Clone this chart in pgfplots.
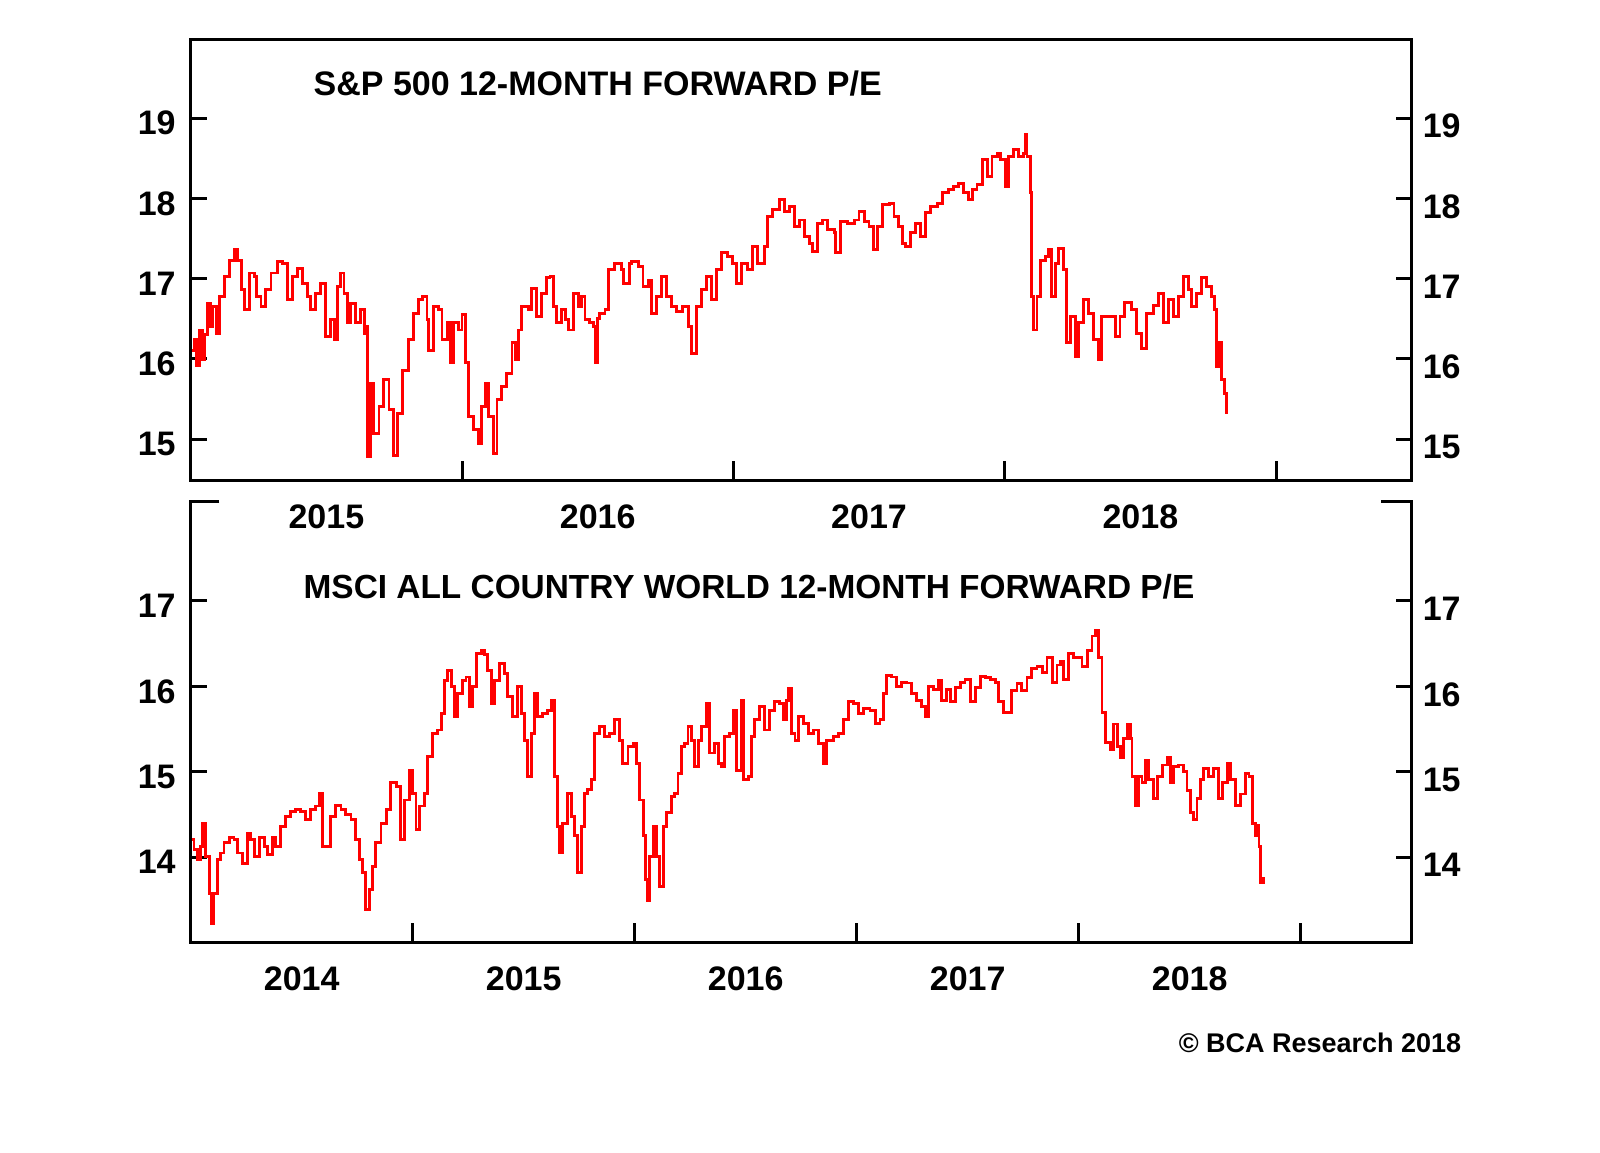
\documentclass[border=0pt]{standalone}
\usepackage{fontspec}
\setmainfont{Liberation Sans}
\usepackage{pgfplots}
\pgfplotsset{compat=1.18}

\definecolor{pered}{RGB}{255,0,0}

\pgfplotsset{
  panel/.style={
    scale only axis,
    width=610.5pt, height=220.85pt,
    anchor=south west,
    axis line style={line width=1.5pt},
    tick style={line width=1.5pt, black},
    major tick length=8pt,
    xtick style={/pgfplots/major tick length=10pt},
    xtick pos=left, ytick pos=both,
    x tick label as interval,
    minor tick num=0,
    tick label style={font=\fontsize{17pt}{20pt}\selectfont\bfseries},
    xticklabel style={yshift=-8.5pt},
    yticklabel style={xshift=-4pt, yshift=-2.5pt},
    /pgf/number format/assume math mode=true,
    /pgf/number format/1000 sep={},
    line join=miter,
  },
  rightlabels/.style={
    panel,
    xtick=\empty,
    yticklabel pos=right,
    axis line style={draw=none},
    tick style={draw=none},
    yticklabel style={xshift=6pt, yshift=-1.5pt},
  },
  series/.style={pered, line width=1.45pt, line join=miter, no marks, const plot},
}

\begin{document}
\begin{tikzpicture}
\path[use as bounding box] (0,0) rectangle (800pt,576pt);

% ---- top panel: S&P 500 ----
\begin{axis}[panel, at={(95.35pt,335.5pt)},
  xmin=2015, xmax=2019.5, ymin=14.48, ymax=19.98,
  xtick={2015,2016,2017,2018,2019}, xticklabels={2015,2016,2017,2018},
  ytick={15,16,17,18,19}]
\addplot[series] coordinates {
(2015.005,16.10) (2015.014,16.24) (2015.022,15.92) (2015.033,16.36) (2015.042,15.99)
(2015.051,16.30) (2015.063,16.69) (2015.072,16.40) (2015.082,16.65) (2015.094,16.32)
(2015.106,16.78) (2015.124,17.03) (2015.143,17.23) (2015.161,17.36) (2015.174,17.23)
(2015.186,16.86) (2015.198,16.61) (2015.216,17.07) (2015.235,17.03) (2015.241,16.78)
(2015.259,16.65) (2015.277,16.86) (2015.296,17.07) (2015.320,17.21) (2015.339,17.19)
(2015.357,16.74) (2015.375,17.03) (2015.394,17.13) (2015.412,16.94) (2015.430,16.78)
(2015.443,16.61) (2015.461,16.82) (2015.480,16.94) (2015.498,16.28) (2015.516,16.49)
(2015.529,16.24) (2015.541,16.90) (2015.553,17.07) (2015.565,16.82) (2015.577,16.45)
(2015.590,16.69) (2015.608,16.45) (2015.627,16.61) (2015.639,16.32) (2015.645,16.40)
(2015.651,14.78) (2015.663,15.70) (2015.675,15.07) (2015.694,15.41) (2015.712,15.74)
(2015.731,15.37) (2015.749,14.80) (2015.761,15.32) (2015.780,15.86) (2015.804,16.24)
(2015.822,16.57) (2015.841,16.74) (2015.853,16.78) (2015.871,16.49) (2015.877,16.11)
(2015.896,16.65) (2015.914,16.61) (2015.926,16.24) (2015.945,16.45) (2015.957,15.95)
(2015.969,16.45) (2015.988,16.36) (2016.000,16.55) (2016.012,15.95) (2016.024,15.28)
(2016.043,15.12) (2016.061,14.95) (2016.073,15.41) (2016.086,15.70) (2016.098,15.28)
(2016.116,14.82) (2016.129,15.49) (2016.147,15.66) (2016.165,15.82) (2016.184,16.20)
(2016.196,15.99) (2016.208,16.36) (2016.220,16.65) (2016.245,16.61) (2016.257,16.88)
(2016.275,16.53) (2016.294,16.82) (2016.312,17.01) (2016.324,17.03) (2016.337,16.65)
(2016.349,16.45) (2016.367,16.61) (2016.380,16.49) (2016.392,16.36) (2016.410,16.82)
(2016.429,16.65) (2016.441,16.78) (2016.453,16.49) (2016.471,16.45) (2016.484,16.40)
(2016.490,15.95) (2016.500,16.50) (2016.508,16.57) (2016.527,16.61) (2016.539,17.11)
(2016.563,17.19) (2016.588,17.11) (2016.594,16.94) (2016.618,17.19) (2016.625,17.21)
(2016.649,17.15) (2016.667,16.90) (2016.686,16.98) (2016.698,16.57) (2016.716,16.78)
(2016.735,17.03) (2016.753,16.78) (2016.772,16.65) (2016.790,16.59) (2016.814,16.65)
(2016.833,16.40) (2016.845,16.07) (2016.863,16.65) (2016.882,16.86) (2016.900,17.03)
(2016.918,16.74) (2016.937,17.11) (2016.955,17.32) (2016.980,17.28) (2016.998,17.19)
(2017.010,16.94) (2017.029,17.19) (2017.053,17.11) (2017.071,17.40) (2017.090,17.19)
(2017.114,17.40) (2017.127,17.77) (2017.145,17.86) (2017.170,17.98) (2017.188,17.84)
(2017.206,17.90) (2017.225,17.65) (2017.243,17.73) (2017.261,17.52) (2017.280,17.44)
(2017.292,17.34) (2017.310,17.69) (2017.329,17.73) (2017.347,17.61) (2017.372,17.57)
(2017.378,17.32) (2017.396,17.71) (2017.420,17.69) (2017.445,17.73) (2017.463,17.84)
(2017.482,17.71) (2017.500,17.65) (2017.518,17.36) (2017.531,17.65) (2017.549,17.92)
(2017.574,17.94) (2017.592,17.77) (2017.610,17.65) (2017.623,17.44) (2017.635,17.40)
(2017.653,17.57) (2017.671,17.69) (2017.690,17.52) (2017.708,17.82) (2017.727,17.90)
(2017.751,17.94) (2017.770,18.07) (2017.794,18.11) (2017.812,18.15) (2017.831,18.19)
(2017.849,18.07) (2017.868,17.98) (2017.880,18.11) (2017.898,18.17) (2017.917,18.48)
(2017.935,18.27) (2017.953,18.52) (2017.972,18.56) (2017.984,18.48) (2018.002,18.15)
(2018.014,18.52) (2018.033,18.61) (2018.051,18.52) (2018.070,18.56) (2018.076,18.79)
(2018.082,18.52) (2018.094,18.07) (2018.100,16.78) (2018.106,16.36) (2018.119,16.78)
(2018.131,17.23) (2018.149,17.28) (2018.161,17.36) (2018.174,16.78) (2018.186,17.19)
(2018.198,17.38) (2018.217,17.11) (2018.229,16.20) (2018.241,16.53) (2018.260,16.03)
(2018.272,16.45) (2018.290,16.74) (2018.309,16.57) (2018.327,16.24) (2018.345,15.99)
(2018.358,16.53) (2018.382,16.53) (2018.407,16.28) (2018.425,16.53) (2018.443,16.70)
(2018.468,16.61) (2018.486,16.32) (2018.504,16.13) (2018.523,16.57) (2018.547,16.67)
(2018.566,16.82) (2018.584,16.45) (2018.603,16.74) (2018.621,16.53) (2018.639,16.78)
(2018.658,17.03) (2018.676,16.86) (2018.688,16.65) (2018.707,16.82) (2018.725,17.01)
(2018.743,16.90) (2018.762,16.78) (2018.774,16.61) (2018.780,15.90) (2018.792,16.20)
(2018.798,15.74) (2018.811,15.57) (2018.819,15.32)
};
\node[anchor=west, inner sep=0pt, font=\fontsize{17pt}{20pt}\selectfont\bfseries]
  at (rel axis cs:0.1004,0.901) {S\&P 500 12-MONTH FORWARD P/E};
\end{axis}
\begin{axis}[rightlabels, at={(95.35pt,335.5pt)},
  xmin=2015, xmax=2019.5, ymin=14.48, ymax=19.98, ytick={15,16,17,18,19}]
\end{axis}

% ---- bottom panel: MSCI ACWI ----
\begin{axis}[panel, at={(95.35pt,104.65pt)},
  xmin=2014, xmax=2019.5, ymin=13.0, ymax=18.17,
  xtick={2014,2015,2016,2017,2018,2019}, xticklabels={2014,2015,2016,2017,2018},
  ytick={14,15,16,17},
  axis line style={draw=none}, clip=false]
\addplot[series] coordinates {
(2014.000,14.21) (2014.015,14.09) (2014.030,13.97) (2014.045,14.13) (2014.053,14.40)
(2014.068,14.01) (2014.083,13.58) (2014.095,13.23) (2014.105,13.58) (2014.120,13.97)
(2014.135,14.05) (2014.150,14.17) (2014.173,14.23) (2014.195,14.21) (2014.210,14.05)
(2014.233,13.93) (2014.256,14.28) (2014.271,14.21) (2014.286,14.01) (2014.308,14.23)
(2014.331,14.13) (2014.346,14.03) (2014.368,14.23) (2014.383,14.13) (2014.406,14.36)
(2014.429,14.48) (2014.451,14.54) (2014.474,14.56) (2014.496,14.54) (2014.519,14.44)
(2014.541,14.56) (2014.564,14.60) (2014.579,14.75) (2014.594,14.13) (2014.609,14.13)
(2014.631,14.48) (2014.654,14.61) (2014.677,14.56) (2014.699,14.50) (2014.722,14.44)
(2014.744,14.21) (2014.759,13.97) (2014.774,13.82) (2014.789,13.39) (2014.804,13.62)
(2014.819,13.89) (2014.834,14.17) (2014.857,14.40) (2014.880,14.56) (2014.902,14.87)
(2014.925,14.83) (2014.947,14.21) (2014.962,14.67) (2014.985,15.02) (2015.000,14.75)
(2015.015,14.32) (2015.030,14.60) (2015.052,14.75) (2015.068,15.18) (2015.090,15.45)
(2015.113,15.49) (2015.128,15.68) (2015.143,16.07) (2015.158,16.19) (2015.173,16.00)
(2015.188,15.65) (2015.203,15.92) (2015.225,16.07) (2015.240,16.11) (2015.255,15.76)
(2015.270,16.00) (2015.286,16.39) (2015.308,16.42) (2015.323,16.37) (2015.338,16.19)
(2015.353,15.80) (2015.368,16.07) (2015.391,16.27) (2015.413,16.15) (2015.428,15.88)
(2015.451,15.65) (2015.473,16.00) (2015.489,15.68) (2015.504,15.37) (2015.519,14.95)
(2015.534,15.45) (2015.549,15.92) (2015.564,15.65) (2015.586,15.68) (2015.609,15.72)
(2015.624,15.84) (2015.639,14.95) (2015.654,14.36) (2015.661,14.05) (2015.676,14.40)
(2015.699,14.75) (2015.714,14.48) (2015.729,14.25) (2015.744,13.82) (2015.759,14.36)
(2015.774,14.75) (2015.789,14.79) (2015.804,14.91) (2015.819,15.45) (2015.842,15.53)
(2015.865,15.41) (2015.887,15.45) (2015.910,15.61) (2015.932,15.37) (2015.947,15.10)
(2015.970,15.30) (2015.993,15.33) (2016.008,15.10) (2016.023,14.67) (2016.038,14.25)
(2016.048,13.74) (2016.057,13.49) (2016.068,14.01) (2016.083,14.36) (2016.098,14.01)
(2016.113,13.66) (2016.128,14.36) (2016.143,14.52) (2016.165,14.71) (2016.180,14.75)
(2016.195,14.98) (2016.210,15.30) (2016.225,15.33) (2016.240,15.53) (2016.255,15.37)
(2016.271,15.06) (2016.286,15.37) (2016.301,15.53) (2016.323,15.80) (2016.338,15.22)
(2016.361,15.33) (2016.376,15.10) (2016.391,15.06) (2016.406,15.41) (2016.429,15.45)
(2016.444,15.72) (2016.459,15.02) (2016.481,15.84) (2016.492,14.91) (2016.511,14.95)
(2016.526,15.41) (2016.541,15.61) (2016.564,15.76) (2016.586,15.49) (2016.609,15.72)
(2016.631,15.82) (2016.654,15.80) (2016.669,15.61) (2016.684,15.84) (2016.692,15.98)
(2016.707,15.45) (2016.722,15.37) (2016.737,15.65) (2016.759,15.57) (2016.782,15.45)
(2016.805,15.49) (2016.827,15.33) (2016.850,15.10) (2016.865,15.37) (2016.895,15.41)
(2016.917,15.45) (2016.940,15.61) (2016.962,15.82) (2016.985,15.80) (2017.008,15.68)
(2017.030,15.74) (2017.060,15.72) (2017.083,15.57) (2017.105,15.61) (2017.120,15.92)
(2017.135,16.13) (2017.158,16.11) (2017.180,16.00) (2017.203,16.05) (2017.225,16.04)
(2017.248,15.92) (2017.270,15.84) (2017.293,15.76) (2017.308,15.65) (2017.323,16.00)
(2017.346,15.96) (2017.368,16.07) (2017.383,15.84) (2017.406,15.96) (2017.421,15.82)
(2017.443,15.99) (2017.466,16.05) (2017.488,16.08) (2017.511,15.82) (2017.534,15.99)
(2017.556,16.12) (2017.579,16.10) (2017.601,16.08) (2017.624,16.05) (2017.639,15.82)
(2017.661,15.69) (2017.684,15.69) (2017.699,15.95) (2017.722,16.03) (2017.744,15.95)
(2017.767,16.10) (2017.789,16.21) (2017.812,16.23) (2017.835,16.16) (2017.857,16.34)
(2017.880,16.05) (2017.902,16.25) (2017.917,16.29) (2017.932,16.08) (2017.955,16.38)
(2017.977,16.34) (2018.000,16.34) (2018.015,16.23) (2018.038,16.42) (2018.060,16.59)
(2018.075,16.66) (2018.090,16.34) (2018.105,15.69) (2018.120,15.34) (2018.142,15.26)
(2018.157,15.56) (2018.173,15.30) (2018.188,15.17) (2018.203,15.39) (2018.218,15.56)
(2018.233,15.39) (2018.240,14.95) (2018.255,14.61) (2018.270,14.95) (2018.285,14.87)
(2018.300,15.13) (2018.316,14.91) (2018.338,14.69) (2018.353,14.95) (2018.376,15.08)
(2018.398,15.17) (2018.413,14.87) (2018.428,15.06) (2018.451,15.08) (2018.473,15.00)
(2018.488,14.78) (2018.503,14.52) (2018.518,14.44) (2018.533,14.69) (2018.548,14.91)
(2018.564,15.04) (2018.586,14.95) (2018.609,15.04) (2018.631,14.69) (2018.646,14.87)
(2018.669,15.10) (2018.684,14.91) (2018.707,14.61) (2018.729,14.74) (2018.752,14.98)
(2018.767,14.95) (2018.782,14.39) (2018.797,14.26) (2018.805,14.37) (2018.812,14.13)
(2018.820,13.70) (2018.832,13.77)
};
% frame with the top edge open except for short corner stubs
\draw[line width=1.5pt, line join=miter]
  (rel axis cs:0.0235,1) -- (rel axis cs:0,1) -- (rel axis cs:0,0)
  -- (rel axis cs:1,0) -- (rel axis cs:1,1) -- (rel axis cs:0.975,1);
\node[anchor=west, inner sep=0pt, font=\fontsize{16.7pt}{20pt}\selectfont\bfseries]
  at (rel axis cs:0.0922,0.807) {MSCI ALL COUNTRY WORLD 12-MONTH FORWARD P/E};
\end{axis}
\begin{axis}[rightlabels, at={(95.35pt,104.65pt)},
  xmin=2014, xmax=2019.5, ymin=13.0, ymax=18.17, ytick={14,15,16,17}]
\end{axis}

\node[anchor=east, inner sep=0pt, font=\fontsize{13.5pt}{16pt}\selectfont\bfseries]
  at (730.85pt,54.5pt) {© BCA Research 2018};
\end{tikzpicture}
\end{document}
